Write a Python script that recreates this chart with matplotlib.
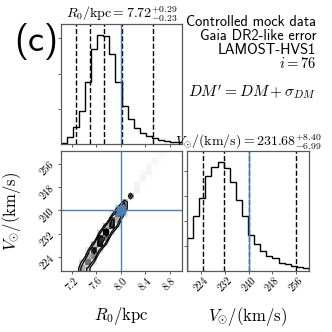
import numpy as np
import matplotlib
matplotlib.use("Agg")
import matplotlib.pyplot as plt
from matplotlib.colors import LinearSegmentedColormap

plt.rcParams['mathtext.fontset'] = 'cm'
plt.rcParams['font.family'] = ['cmr10', 'DejaVu Serif']
plt.rcParams['axes.unicode_minus'] = False
plt.rcParams['axes.formatter.use_mathtext'] = True

# binning ranges of the two parameters
r0_range = (7.02, 9.0)
v_range = (219.3, 260.3)

# 1D histogram counts (20 bins each)
r0_counts = [31, 186, 480, 945, 1776, 2694, 3100, 3081, 2551, 1776,
             1070, 710, 453, 310, 217, 170, 124, 84, 56, 47]
v_counts = [1330, 2200, 2915, 3770, 4155, 4350, 4100, 3565, 2820, 2200,
            1435, 1080, 805, 605, 500, 330, 280, 210, 170, 130]

# quantile lines
r0_quantiles = [7.265, 7.49, 7.72, 8.01, 8.52]
v_quantiles = [224.69, 231.68, 240.08, 256.0]

truth = (8.0, 240.0)
r0_ticks = [7.2, 7.6, 8.0, 8.4, 8.8]
v_ticks = [224, 232, 240, 248, 256]

# 2D histogram: R0 bin -> (first V bin, counts)
h2d_rows = {
    2: (0, [200]),
    3: (0, [900, 600]),
    4: (0, [700, 1200, 900, 500]),
    5: (1, [500, 1100, 1400, 800]),
    6: (3, [600, 1500, 1450, 600]),
    7: (4, [500, 1100, 1600, 900]),
    8: (6, [600, 1400, 1300, 500]),
    9: (7, [500, 900, 1200, 700]),
    10: (9, [500, 900, 750]),
    11: (11, [200, 800, 150]),
    12: (13, [380, 320]),
    13: (14, [150, 350, 250]),
    14: (16, [320, 300]),
    15: (17, [150, 280, 150]),
    16: (18, [120, 220]),
    17: (19, [150]),
}

blue = '#4682b4'
spine_c = '0.35'

fig = plt.figure(figsize=(3.32, 3.32), dpi=100)
ax_r = fig.add_axes([61/332, 1-144/332, 121/332, 120/332])
ax_2d = fig.add_axes([61/332, 1-271/332, 121/332, 120/332])
ax_v = fig.add_axes([187/332, 1-271/332, 122/332, 120/332])

nx, ny = len(r0_counts), len(v_counts)
r0_edges = np.linspace(*r0_range, nx + 1)
v_edges = np.linspace(*v_range, ny + 1)

# --- 1D histograms
ax_r.hist(r0_edges[:-1], bins=r0_edges, weights=r0_counts, histtype='step', color='k', lw=1.0)
ax_r.set_xlim(*r0_range)
ax_r.set_ylim(0, 1.1 * max(r0_counts))
for q in r0_quantiles:
    ax_r.axvline(q, ls='--', color='k', lw=1.0)
ax_r.axvline(truth[0], color=blue, lw=1.0)
ax_r.set_xticks(r0_ticks)
ax_r.set_xticklabels([])
ax_r.set_yticks([1000, 2000, 3000])
ax_r.set_yticklabels([])
ax_r.set_title(r'$R_0/\mathrm{kpc} = 7.72^{+0.29}_{-0.23}$', fontsize=10, pad=3)

ax_v.hist(v_edges[:-1], bins=v_edges, weights=v_counts, histtype='step', color='k', lw=1.0)
ax_v.set_xlim(*v_range)
ax_v.set_ylim(0, 1.1 * max(v_counts))
for q in v_quantiles:
    ax_v.axvline(q, ls='--', color='k', lw=1.0)
ax_v.axvline(truth[1], color=blue, lw=1.0)
ax_v.set_xticks(v_ticks)
ax_v.set_xticklabels([str(t) for t in v_ticks], rotation=45, fontsize=7.5)
ax_v.set_yticks([1000, 2000, 3000, 4000])
ax_v.set_yticklabels([])
ax_v.set_title(r'$V_{\odot}/(\mathrm{km/s}) = 231.68^{+8.40}_{-6.99}$', fontsize=10, pad=3)
ax_v.set_xlabel(r'$V_{\odot}/(\mathrm{km/s})$', fontsize=12)
ax_v.xaxis.set_label_coords(0.5, -0.28)

# --- 2D histogram (corner style)
H = np.zeros((nx, ny))
for i, (j0, vals) in h2d_rows.items():
    H[i, j0:j0 + len(vals)] = vals

levels = 1.0 - np.exp(-0.5 * np.arange(0.5, 2.1, 0.5) ** 2)
Hflat = np.sort(H.flatten())[::-1]
sm = np.cumsum(Hflat)
sm /= sm[-1]
V = np.empty(len(levels))
for k, v0 in enumerate(levels):
    try:
        V[k] = Hflat[sm <= v0][-1]
    except IndexError:
        V[k] = Hflat[0]
V.sort()

X1 = 0.5 * (r0_edges[1:] + r0_edges[:-1])
Y1 = 0.5 * (v_edges[1:] + v_edges[:-1])
H2 = H.min() + np.zeros((nx + 4, ny + 4))
H2[2:-2, 2:-2] = H
H2[2:-2, 1] = H[:, 0]
H2[2:-2, -2] = H[:, -1]
H2[1, 2:-2] = H[0]
H2[-2, 2:-2] = H[-1]
H2[1, 1] = H[0, 0]
H2[1, -2] = H[0, -1]
H2[-2, 1] = H[-1, 0]
H2[-2, -2] = H[-1, -1]
dx, dy = X1[1] - X1[0], Y1[1] - Y1[0]
X2 = np.concatenate([X1[0] + np.array([-2, -1]) * dx, X1, X1[-1] + np.array([1, 2]) * dx])
Y2 = np.concatenate([Y1[0] + np.array([-2, -1]) * dy, Y1, Y1[-1] + np.array([1, 2]) * dy])

white_cmap = LinearSegmentedColormap.from_list('white_cmap', [(1, 1, 1), (1, 1, 1)], N=2)
density_cmap = LinearSegmentedColormap.from_list('density_cmap', ['k', (1, 1, 1, 0)])
ax_2d.contourf(X2, Y2, H2.T, [V.min(), H.max()], cmap=white_cmap, antialiased=False)
ax_2d.pcolormesh(r0_edges, v_edges, H.max() - H.T, cmap=density_cmap)
ax_2d.contour(X2, Y2, H2.T, V, colors='k', linewidths=0.9)
ax_2d.axvline(truth[0], color=blue, lw=1.0)
ax_2d.axhline(truth[1], color=blue, lw=1.0)
ax_2d.plot(truth[0], truth[1], 's', color=blue, ms=6)
ax_2d.set_xlim(*r0_range)
ax_2d.set_ylim(*v_range)
ax_2d.set_xticks(r0_ticks)
ax_2d.set_xticklabels([f'{t:.1f}' for t in r0_ticks], rotation=45, fontsize=7.5)
ax_2d.set_yticks(v_ticks)
ax_2d.set_yticklabels([str(t) for t in v_ticks], rotation=45, fontsize=7.5)
ax_2d.set_xlabel(r'$R_0/\mathrm{kpc}$', fontsize=12)
ax_2d.set_ylabel(r'$V_{\odot}/(\mathrm{km/s})$', fontsize=12)
ax_2d.xaxis.set_label_coords(0.5, -0.28)
ax_2d.yaxis.set_label_coords(-0.31, 0.5)

for ax in (ax_r, ax_2d, ax_v):
    for s in ax.spines.values():
        s.set_color(spine_c)
        s.set_linewidth(0.9)
    ax.tick_params(length=2.5, width=0.7, color=spine_c, pad=1)

# --- annotations
fig.text(36/332, 1-42/332, '(c)', ha='center', va='center', fontsize=26, family='cmss10')
info_lines = ['Controlled mock data', 'Gaia DR2-like error', 'LAMOST-HVS1']
for k, line in enumerate(info_lines):
    fig.text(316/332, 1-(22 + 14*k)/332, line, ha='right', va='center', fontsize=10.4, family='cmss10')
fig.text(316/332, 1-64/332, r'$i = 76$', ha='right', va='center', fontsize=10.5)
fig.text(316/332, 1-92/332, r"$DM' = DM + \sigma_{DM}$", ha='right', va='center', fontsize=11.2)

fig.savefig('out.png', dpi=100)
